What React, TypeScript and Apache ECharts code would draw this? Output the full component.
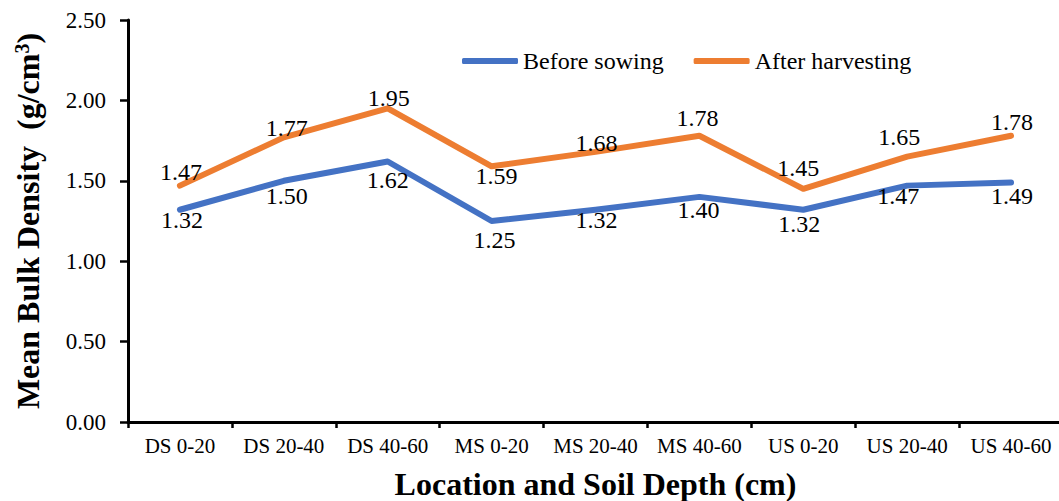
import React, { useEffect, useRef } from "react";
import * as echarts from "echarts";

// Sampling locations and depth intervals
const categories: string[] = [
  "DS 0-20", "DS 20-40", "DS 40-60",
  "MS 0-20", "MS 20-40", "MS 40-60",
  "US 0-20", "US 20-40", "US 40-60",
];

// Mean bulk density (g/cm³)
const beforeSowing: number[] = [1.32, 1.5, 1.62, 1.25, 1.32, 1.4, 1.32, 1.47, 1.49];
const afterHarvesting: number[] = [1.47, 1.77, 1.95, 1.59, 1.68, 1.78, 1.45, 1.65, 1.78];

// Hand-placed value label nudges [dx, dy] in px, relative to each point
const beforeLabelNudge: [number, number][] = [
  [2, 10], [3, 15], [0, 18], [3, 19], [1, 10], [-1, 13], [-4, 14], [-9, 10], [1, 14],
];
const afterLabelNudge: [number, number][] = [
  [1, -14], [3, -9], [1, -10], [5, 10], [1, -9], [-2, -18], [-5, -21], [-8, -20], [1, -14],
];

const yTicks = { min: 0, max: 2.5, interval: 0.5 };

const FONT = "'Liberation Serif', 'Times New Roman', serif";
const BLUE = "#4472C4";
const ORANGE = "#ED7D31";

const numStyle = (size: number) => ({ fontFamily: FONT, fontSize: size, color: "#000" });

function withLabels(values: number[], nudges: [number, number][]) {
  return values.map((v, i) => ({
    value: v,
    label: { offset: nudges[i], formatter: "{n|" + v.toFixed(2) + "}" },
  }));
}

export default function App() {
  const ref = useRef<HTMLDivElement>(null);

  useEffect(() => {
    if (!ref.current) return;
    const chart = echarts.init(ref.current, undefined, { renderer: "svg" });

    const labelStyle = {
      show: true,
      position: "inside" as const,
      color: "#000",
      fontFamily: FONT,
      fontSize: 24,
      textBorderWidth: 0,
      rich: { n: numStyle(24) },
    };

    chart.setOption({
      animation: false,
      backgroundColor: "#fff",
      textStyle: { fontFamily: FONT },
      grid: {
        left: 128,
        right: -4,
        top: 20,
        bottom: 79,
        containLabel: false,
        outerBoundsMode: "none",
      },
      legend: {
        left: 457,
        top: 44,
        icon: "roundRect",
        itemWidth: 56,
        itemHeight: 6,
        itemGap: 30,
        textStyle: { fontFamily: FONT, fontSize: 24, color: "#000" },
        data: ["Before sowing", "After harvesting"],
      },
      xAxis: {
        type: "category",
        data: categories,
        boundaryGap: true,
        name: "Location and Soil Depth (cm)",
        nameLocation: "middle",
        nameGap: 46,
        nameTextStyle: { fontFamily: FONT, fontSize: 32, fontWeight: "bold", color: "#000" },
        axisLine: { show: true, lineStyle: { color: "#000", width: 3 } },
        axisTick: { show: true, interval: 0, length: 6, lineStyle: { color: "#000", width: 2.5 } },
        axisLabel: { interval: 0, margin: 13, fontFamily: FONT, fontSize: 21, color: "#000" },
        splitLine: { show: false },
      },
      yAxis: {
        type: "value",
        min: yTicks.min,
        max: yTicks.max,
        interval: yTicks.interval,
        name: "{a|Mean Bulk Density  (g/cm}{b|3}{a|)}",
        nameLocation: "middle",
        nameGap: 84,
        nameTextStyle: {
          fontFamily: FONT,
          rich: {
            a: { fontFamily: FONT, fontSize: 32, fontWeight: "bold", color: "#000" },
            b: { fontFamily: FONT, fontSize: 20, fontWeight: "bold", color: "#000", verticalAlign: "top" },
          },
        },
        axisLine: { show: true, lineStyle: { color: "#000", width: 3 } },
        axisTick: { show: true, length: 8, lineStyle: { color: "#000", width: 2.5 } },
        axisLabel: {
          margin: 22,
          fontFamily: FONT,
          fontSize: 23,
          color: "#000",
          formatter: (v: number) => "{n|" + v.toFixed(2) + "}",
          rich: { n: numStyle(23) },
        },
        splitLine: { show: false },
      },
      series: [
        {
          name: "Before sowing",
          type: "line",
          data: withLabels(beforeSowing, beforeLabelNudge),
          symbol: "circle",
          symbolSize: 2,
          itemStyle: { color: BLUE },
          lineStyle: { color: BLUE, width: 6, cap: "round", join: "round" },
          label: labelStyle,
        },
        {
          name: "After harvesting",
          type: "line",
          data: withLabels(afterHarvesting, afterLabelNudge),
          symbol: "circle",
          symbolSize: 2,
          itemStyle: { color: ORANGE },
          lineStyle: { color: ORANGE, width: 6, cap: "round", join: "round" },
          label: labelStyle,
        },
      ],
    });

    return () => chart.dispose();
  }, []);

  return (
    <div
      ref={ref}
      style={{ position: "fixed", left: 0, top: 0, width: 1059, height: 501, background: "#fff" }}
    />
  );
}
